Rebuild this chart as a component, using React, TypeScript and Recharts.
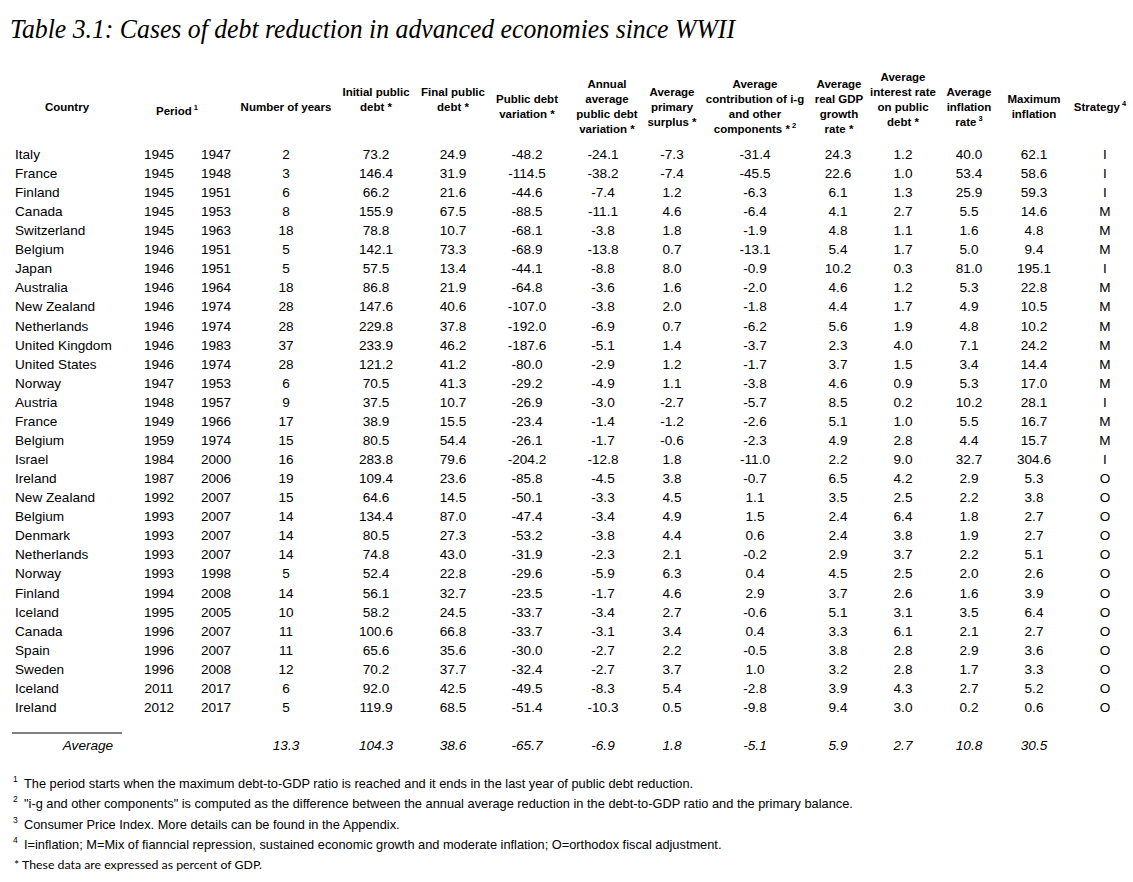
import React from 'react';
import { ScatterChart, Scatter, XAxis, YAxis, Customized } from 'recharts';

// table rows, in the order of the source
const countries = ['Italy', 'France', 'Finland', 'Canada', 'Switzerland', 'Belgium', 'Japan', 'Australia', 'New Zealand', 'Netherlands', 'United Kingdom', 'United States', 'Norway', 'Austria', 'France', 'Belgium', 'Israel', 'Ireland', 'New Zealand', 'Belgium', 'Denmark', 'Netherlands', 'Norway', 'Finland', 'Iceland', 'Canada', 'Spain', 'Sweden', 'Iceland', 'Ireland'];
const startYear = [1945, 1945, 1945, 1945, 1945, 1946, 1946, 1946, 1946, 1946, 1946, 1946, 1947, 1948, 1949, 1959, 1984, 1987, 1992, 1993, 1993, 1993, 1993, 1994, 1995, 1996, 1996, 1996, 2011, 2012];
const endYear = [1947, 1948, 1951, 1953, 1963, 1951, 1951, 1964, 1974, 1974, 1983, 1974, 1953, 1957, 1966, 1974, 2000, 2006, 2007, 2007, 2007, 2007, 1998, 2008, 2005, 2007, 2007, 2008, 2017, 2017];
const numYears = [2, 3, 6, 8, 18, 5, 5, 18, 28, 28, 37, 28, 6, 9, 17, 15, 16, 19, 15, 14, 14, 14, 5, 14, 10, 11, 11, 12, 6, 5];
const initialDebt = [73.2, 146.4, 66.2, 155.9, 78.8, 142.1, 57.5, 86.8, 147.6, 229.8, 233.9, 121.2, 70.5, 37.5, 38.9, 80.5, 283.8, 109.4, 64.6, 134.4, 80.5, 74.8, 52.4, 56.1, 58.2, 100.6, 65.6, 70.2, 92.0, 119.9];
const finalDebt = [24.9, 31.9, 21.6, 67.5, 10.7, 73.3, 13.4, 21.9, 40.6, 37.8, 46.2, 41.2, 41.3, 10.7, 15.5, 54.4, 79.6, 23.6, 14.5, 87.0, 27.3, 43.0, 22.8, 32.7, 24.5, 66.8, 35.6, 37.7, 42.5, 68.5];
const debtVariation = [-48.2, -114.5, -44.6, -88.5, -68.1, -68.9, -44.1, -64.8, -107.0, -192.0, -187.6, -80.0, -29.2, -26.9, -23.4, -26.1, -204.2, -85.8, -50.1, -47.4, -53.2, -31.9, -29.6, -23.5, -33.7, -33.7, -30.0, -32.4, -49.5, -51.4];
const annualVariation = [-24.1, -38.2, -7.4, -11.1, -3.8, -13.8, -8.8, -3.6, -3.8, -6.9, -5.1, -2.9, -4.9, -3.0, -1.4, -1.7, -12.8, -4.5, -3.3, -3.4, -3.8, -2.3, -5.9, -1.7, -3.4, -3.1, -2.7, -2.7, -8.3, -10.3];
const primarySurplus = [-7.3, -7.4, 1.2, 4.6, 1.8, 0.7, 8.0, 1.6, 2.0, 0.7, 1.4, 1.2, 1.1, -2.7, -1.2, -0.6, 1.8, 3.8, 4.5, 4.9, 4.4, 2.1, 6.3, 4.6, 2.7, 3.4, 2.2, 3.7, 5.4, 0.5];
const igContribution = [-31.4, -45.5, -6.3, -6.4, -1.9, -13.1, -0.9, -2.0, -1.8, -6.2, -3.7, -1.7, -3.8, -5.7, -2.6, -2.3, -11.0, -0.7, 1.1, 1.5, 0.6, -0.2, 0.4, 2.9, -0.6, 0.4, -0.5, 1.0, -2.8, -9.8];
const gdpGrowth = [24.3, 22.6, 6.1, 4.1, 4.8, 5.4, 10.2, 4.6, 4.4, 5.6, 2.3, 3.7, 4.6, 8.5, 5.1, 4.9, 2.2, 6.5, 3.5, 2.4, 2.4, 2.9, 4.5, 3.7, 5.1, 3.3, 3.8, 3.2, 3.9, 9.4];
const interestRate = [1.2, 1.0, 1.3, 2.7, 1.1, 1.7, 0.3, 1.2, 1.7, 1.9, 4.0, 1.5, 0.9, 0.2, 1.0, 2.8, 9.0, 4.2, 2.5, 6.4, 3.8, 3.7, 2.5, 2.6, 3.1, 6.1, 2.8, 2.8, 4.3, 3.0];
const inflationRate = [40.0, 53.4, 25.9, 5.5, 1.6, 5.0, 81.0, 5.3, 4.9, 4.8, 7.1, 3.4, 5.3, 10.2, 5.5, 4.4, 32.7, 2.9, 2.2, 1.8, 1.9, 2.2, 2.0, 1.6, 3.5, 2.1, 2.9, 1.7, 2.7, 0.2];
const maxInflation = [62.1, 58.6, 59.3, 14.6, 4.8, 9.4, 195.1, 22.8, 10.5, 10.2, 24.2, 14.4, 17.0, 28.1, 16.7, 15.7, 304.6, 5.3, 3.8, 2.7, 2.7, 5.1, 2.6, 3.9, 6.4, 2.7, 3.6, 3.3, 5.2, 0.6];
const strategy = ['I', 'I', 'I', 'M', 'M', 'M', 'I', 'M', 'M', 'M', 'M', 'M', 'M', 'I', 'M', 'M', 'I', 'O', 'O', 'O', 'O', 'O', 'O', 'O', 'O', 'O', 'O', 'O', 'O', 'O'];

// averages from number of years to maximum inflation
const averages = [13.3, 104.3, 38.6, -65.7, -6.9, 1.8, -5.1, 5.9, 2.7, 10.8, 30.5];

// header text, '^' marks a superscript note
const headerLines = [
  ['Country'],
  ['Period^1'],
  ['Number of years'],
  ['Initial public', 'debt *'],
  ['Final public', 'debt *'],
  ['Public debt', 'variation *'],
  ['Annual', 'average', 'public debt', 'variation *'],
  ['Average', 'primary', 'surplus *'],
  ['Average', 'contribution of i-g', 'and other', 'components *^2'],
  ['Average', 'real GDP', 'growth', 'rate *'],
  ['Average', 'interest rate', 'on public', 'debt *'],
  ['Average', 'inflation', 'rate^3'],
  ['Maximum', 'inflation'],
  ['Strategy^4'],
];

const title = 'Table 3.1: Cases of debt reduction in advanced economies since WWII';

const footnotes = [
  ['1', 'The period starts when the maximum debt-to-GDP ratio is reached and it ends in the last year of public debt reduction.'],
  ['2', '"i-g and other components" is computed as the difference between the annual average reduction in the debt-to-GDP ratio and the primary balance.'],
  ['3', 'Consumer Price Index. More details can be found in the Appendix.'],
  ['4', 'I=inflation; M=Mix of fianncial repression, sustained economic growth and moderate inflation; O=orthodox fiscal adjustment.'],
];
const starNote = '* These data are expressed as percent of GDP.';

// layout
const W = 1133;
const H = 882;
const ROW0 = 154;
const ROW_STEP = 19.07;
const SANS = "'Liberation Sans', Arial, sans-serif";

type Col = {
  values: (string | number)[];
  x: number;
  decimals?: number;
  anchor?: 'start' | 'middle';
  headX: number;
  headY: number;
};

const columns: Col[] = [
  { values: countries, x: 15, anchor: 'start', headX: 67, headY: 107 },
  { values: startYear, x: 159, headX: 177, headY: 111 },
  { values: endYear, x: 216, headX: 0, headY: 0 },
  { values: numYears, x: 286, headX: 286, headY: 107 },
  { values: initialDebt, x: 376, decimals: 1, headX: 376, headY: 92 },
  { values: finalDebt, x: 453, decimals: 1, headX: 453, headY: 92 },
  { values: debtVariation, x: 527, decimals: 1, headX: 527, headY: 99 },
  { values: annualVariation, x: 603, decimals: 1, headX: 607, headY: 84 },
  { values: primarySurplus, x: 672, decimals: 1, headX: 672, headY: 92 },
  { values: igContribution, x: 755, decimals: 1, headX: 755, headY: 84 },
  { values: gdpGrowth, x: 838, decimals: 1, headX: 839, headY: 84 },
  { values: interestRate, x: 903, decimals: 1, headX: 903, headY: 77 },
  { values: inflationRate, x: 969, decimals: 1, headX: 969, headY: 92 },
  { values: maxInflation, x: 1034, decimals: 1, headX: 1034, headY: 99 },
  { values: strategy, x: 1105, headX: 1100, headY: 107 },
];
// columns that carry a header (the period header spans both year columns)
const headerCols = [0, 1, 3, 4, 5, 6, 7, 8, 9, 10, 11, 12, 13, 14];

const fmt = (v: string | number, d?: number) =>
  typeof v === 'number' && d != null ? v.toFixed(d) : String(v);

const cellData = columns.map((c) =>
  c.values.map((v, i) => ({
    x: c.x,
    y: i,
    label: fmt(v, c.decimals),
    anchor: c.anchor || 'middle',
  }))
);

const averageData = [
  { x: 88, y: countries.length + 1, label: 'Average', anchor: 'middle' },
  ...averages.map((v, i) => ({
    x: columns[i + 3].x,
    y: countries.length + 1,
    label: v.toFixed(1),
    anchor: 'middle',
  })),
];

const CellText = (props: any) => {
  const { cx, cy, payload } = props;
  return (
    <text
      x={cx}
      y={cy}
      dy="0.36em"
      textAnchor={payload.anchor}
      fontFamily={SANS}
      fontSize={13.6}
      fill="#000"
    >
      {payload.label}
    </text>
  );
};

const AverageText = (props: any) => {
  const { cx, cy, payload } = props;
  return (
    <text
      x={cx}
      y={cy}
      dy="0.36em"
      textAnchor={payload.anchor}
      fontFamily={SANS}
      fontSize={13.6}
      fontStyle="italic"
      fill="#000"
    >
      {payload.label}
    </text>
  );
};

const withSup = (s: string, size: number) => {
  const [main, sup] = s.split('^');
  return (
    <>
      <tspan>{main}</tspan>
      {sup && (
        <tspan fontSize={size * 0.65} dy={-size * 0.45}>
          {' ' + sup}
        </tspan>
      )}
    </>
  );
};

const Overlay = () => (
  <g>
    <text
      x={10}
      y={38}
      fontFamily="'Liberation Serif', 'Times New Roman', serif"
      fontStyle="italic"
      fontSize={27}
      textLength={725}
      lengthAdjust="spacingAndGlyphs"
      fill="#000"
    >
      {title}
    </text>
    {headerCols.map((ci, k) => {
      const c = columns[ci];
      return headerLines[k].map((line, li) => (
        <text
          key={`h-${k}-${li}`}
          x={c.headX}
          y={c.headY + li * 15}
          dy="0.36em"
          textAnchor="middle"
          fontFamily={SANS}
          fontWeight="bold"
          fontSize={11.5}
          fill="#000"
        >
          {withSup(line, 11.5)}
        </text>
      ));
    })}
    <line x1={12} x2={122} y1={733} y2={733} stroke="#000" strokeWidth={1} />
    {footnotes.map(([n, t], i) => (
      <g key={`f-${i}`}>
        <text x={13} y={782 + i * 20.3} fontFamily={SANS} fontSize={8.5} fill="#000">
          {n}
        </text>
        <text x={24} y={788 + i * 20.3} fontFamily={SANS} fontSize={12.8} fill="#000">
          {t}
        </text>
      </g>
    ))}
    <text
      x={14}
      y={869}
      fontFamily="Lato, 'Open Sans', sans-serif"
      fontSize={12}
      textLength={248}
      lengthAdjust="spacingAndGlyphs"
      fill="#000"
    >
      {starNote}
    </text>
  </g>
);

const yMin = -ROW0 / ROW_STEP;
const yMax = yMin + H / ROW_STEP;

export default function App() {
  return (
    <div style={{ position: 'absolute', left: 0, top: 0, width: W, height: H, background: '#fff' }}>
      <ScatterChart width={W} height={H} margin={{ top: 0, right: 0, bottom: 0, left: 0 }}>
        <XAxis type="number" dataKey="x" domain={[0, W]} hide />
        <YAxis type="number" dataKey="y" domain={[yMin, yMax]} reversed allowDataOverflow hide />
        {cellData.map((d, i) => (
          <Scatter key={`c-${i}`} data={d} shape={CellText} isAnimationActive={false} />
        ))}
        <Scatter data={averageData} shape={AverageText} isAnimationActive={false} />
        <Customized component={Overlay} />
      </ScatterChart>
    </div>
  );
}
